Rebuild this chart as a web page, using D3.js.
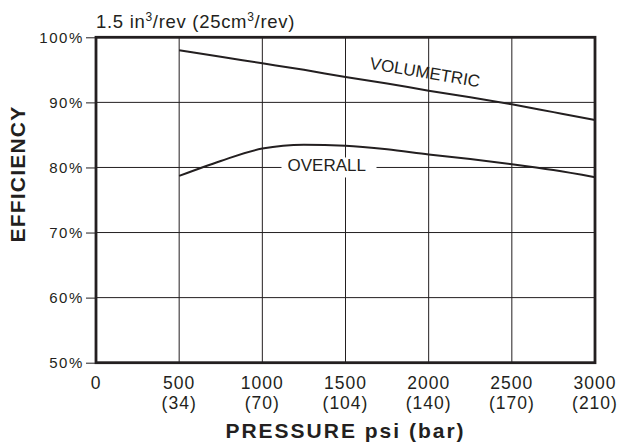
<!DOCTYPE html>
<html>
<head>
<meta charset="utf-8">
<script src="https://cdn.jsdelivr.net/npm/d3@7"></script>
<style>
  body { margin: 0; background: #fff; }
  text { font-family: "Liberation Sans", Arial, sans-serif; fill: #231f20; }
</style>
</head>
<body>
<div id="chart"></div>
<script>
// values
const pressure = [500, 750, 1000, 1250, 1500, 1750, 2000, 2250, 2500, 2750, 3000]
const volumetric = [98.0, 97.0, 96.0, 95.0, 93.9, 92.9, 91.8, 90.8, 89.7, 88.5, 87.3]
const overall = [78.7, 81.0, 82.9, 83.5, 83.35, 82.8, 82.0, 81.3, 80.5, 79.6, 78.5]

const psiTicks = [0, 500, 1000, 1500, 2000, 2500, 3000]
const barLabels = ["", "(34)", "(70)", "(104)", "(140)", "(170)", "(210)"]
const effTicks = [50, 60, 70, 80, 90, 100]

const width = 621
const height = 446
const ink = "#231f20"

let padding = {
    top: 37.3,
    right: 26,
    bottom: 83.3,
    left: 96,
}

const svg = d3.select("#chart")
    .append("svg")
    .attr("width", width)
    .attr("height", height)

const x = d3.scaleLinear()
    .domain([0, 3000])
    .range([padding.left, width - padding.right])

const y = d3.scaleLinear()
    .domain([50, 100])
    .range([height - padding.bottom, padding.top])

// grid
svg.append("g").attr("id", "grid-h")
    .selectAll("line")
    .data(effTicks.filter(d => d > 50 && d < 100))
    .enter()
    .append("line")
    .attr("x1", x(0)).attr("x2", x(3000))
    .attr("y1", d => y(d)).attr("y2", d => y(d))
    .attr("stroke", ink)
    .attr("stroke-width", 1)

svg.append("g").attr("id", "grid-v")
    .selectAll("line")
    .data(psiTicks.filter(d => d > 0 && d < 3000))
    .enter()
    .append("line")
    .attr("x1", d => x(d)).attr("x2", d => x(d))
    .attr("y1", y(50)).attr("y2", y(100))
    .attr("stroke", ink)
    .attr("stroke-width", 1)

// y axis
const yAxis = d3.axisLeft(y)
    .tickValues(effTicks)
    .tickSize(10)
    .tickPadding(2)
    .tickFormat(d => d + "%")

const yg = svg.append("g").attr("id", "y-axis")
    .attr("transform", `translate(${padding.left},0)`)
    .call(yAxis)
yg.select(".domain").remove()
yg.selectAll(".tick line").attr("stroke", ink)
yg.selectAll(".tick text")
    .attr("font-family", "Liberation Sans, Arial, sans-serif")
    .attr("font-size", 15)
    .attr("letter-spacing", 1.6)
    .attr("fill", ink)

// x axis labels (psi + bar)
const xg = svg.append("g").attr("id", "x-axis")
xg.selectAll(".psi")
    .data(psiTicks)
    .enter()
    .append("text")
    .attr("class", "psi")
    .attr("x", d => x(d))
    .attr("y", y(50) + 26)
    .attr("text-anchor", "middle")
    .attr("font-size", 17.5)
    .attr("letter-spacing", 1)
    .text(d => d)
xg.selectAll(".bar")
    .data(psiTicks)
    .enter()
    .append("text")
    .attr("class", "bar")
    .attr("x", d => x(d))
    .attr("y", y(50) + 46.5)
    .attr("text-anchor", "middle")
    .attr("font-size", 17.5)
    .attr("letter-spacing", 1)
    .text((d, i) => barLabels[i])

// frame
svg.append("rect")
    .attr("x", x(0)).attr("y", y(100))
    .attr("width", x(3000) - x(0))
    .attr("height", y(50) - y(100))
    .attr("fill", "none")
    .attr("stroke", ink)
    .attr("stroke-width", 2.8)

// curves
const line = d3.line()
    .x(d => x(d[0]))
    .y(d => y(d[1]))
    .curve(d3.curveMonotoneX)

svg.append("path")
    .datum(pressure.map((p, i) => [p, volumetric[i]]))
    .attr("d", line)
    .attr("fill", "none")
    .attr("stroke", ink)
    .attr("stroke-width", 2)

// OVERALL label sits on the 80% line with a white gap
svg.append("rect")
    .attr("x", 281.5).attr("y", y(80) - 10)
    .attr("width", 95).attr("height", 20)
    .attr("fill", "#fff")
svg.append("text")
    .attr("x", 287.5)
    .attr("y", y(80) + 4)
    .attr("font-size", 17)
    .text("OVERALL")

svg.append("path")
    .datum(pressure.map((p, i) => [p, overall[i]]))
    .attr("d", line)
    .attr("fill", "none")
    .attr("stroke", ink)
    .attr("stroke-width", 2)

svg.append("text")
    .attr("text-anchor", "middle")
    .attr("font-size", 17)
    .attr("transform", `translate(424,78) rotate(9.5)`)
    .text("VOLUMETRIC")

// titles
const title = svg.append("text")
    .attr("x", padding.left)
    .attr("y", 28)
    .attr("font-size", 18.5)
    .attr("letter-spacing", 0.7)
title.append("tspan").text("1.5 in")
title.append("tspan").attr("font-size", 12).attr("dy", -7).text("3")
title.append("tspan").attr("dy", 7).text("/rev (25cm")
title.append("tspan").attr("font-size", 12).attr("dy", -7).text("3")
title.append("tspan").attr("dy", 7).text("/rev)")

svg.append("text")
    .attr("x", (x(0) + x(3000)) / 2)
    .attr("y", 437.5)
    .attr("text-anchor", "middle")
    .attr("font-size", 21)
    .attr("font-weight", "bold")
    .attr("letter-spacing", 2)
    .text("PRESSURE psi (bar)")

svg.append("text")
    .attr("transform", "translate(25,174) rotate(-90)")
    .attr("text-anchor", "middle")
    .attr("font-size", 21)
    .attr("font-weight", "bold")
    .attr("letter-spacing", 1.2)
    .text("EFFICIENCY")
</script>
</body>
</html>
